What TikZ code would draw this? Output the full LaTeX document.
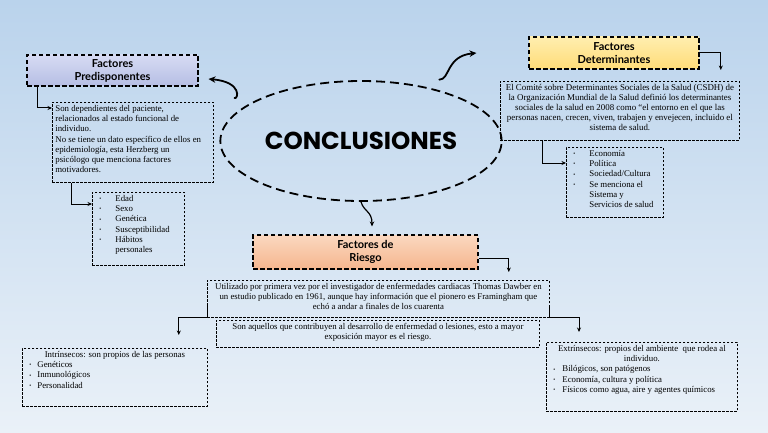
\documentclass[tikz,border=0pt]{standalone}
\usepackage{fontspec}
\setmainfont{Liberation Serif}
\newfontfamily\headfont{Lato}
\newfontfamily\bigfont{Poppins}
\usetikzlibrary{
    arrows.meta,
    shapes.geometric,
    positioning,
    calc
}
\definecolor{bgtop}{RGB}{186,211,236}
\definecolor{bgbot}{RGB}{234,241,248}
\definecolor{predtop}{RGB}{214,219,243}
\definecolor{predbot}{RGB}{182,190,228}
\definecolor{dettop}{RGB}{255,238,175}
\definecolor{detbot}{RGB}{255,220,120}
\definecolor{riestop}{RGB}{251,216,192}
\definecolor{riesbot}{RGB}{245,182,142}
\newcommand{\notefont}{\fontsize{8.8}{10.2}\selectfont}
\newcommand{\topbox}[3]{\parbox[t][#2][t]{#1}{#3}}
\newcommand{\bul}[1]{\hspace*{4pt}\makebox[#1][l]{\raisebox{0.8pt}{\fontsize{5.5}{5.5}\selectfont\textbullet}}}

\begin{document}
\begin{tikzpicture}[
        x=1pt, y=-1pt,
        title/.style={draw, dash pattern=on 4.5pt off 2.5pt, line width=1.1pt, align=center, inner sep=1pt, font=\headfont\bfseries\fontsize{11}{13}\selectfont},
        note/.style={draw, dash pattern=on 2.4pt off 1.6pt, line width=0.8pt, inner sep=3pt, anchor=north west, font=\notefont},
        link/.style={line width=1pt, -{Stealth[length=4.5pt, width=4pt]}},
        curvy/.style={line width=1.8pt, line cap=round, -{Stealth[length=7pt, width=6.5pt]}}
    ]
        % background
        \useasboundingbox (0,0) rectangle (768,433);
        \shade[top color=bgtop, bottom color=bgbot] (0,0) rectangle (768,433);

        % centre
        \node[ellipse, draw, line width=1.8pt, dash pattern=on 9pt off 5pt, minimum width=216pt, minimum height=120pt, font=\bigfont\bfseries\fontsize{24.5}{27}\selectfont] (concl) at (361,141) {CONCLUSIONES};

        % Predisponentes
        \node[title, top color=predtop, bottom color=predbot, minimum width=171pt, minimum height=31pt] (pred) at (112.5,70.5) {Factores\\ Predisponentes};
        \node[note] (predtxt) at (52,102) {\topbox{155pt}{74pt}{\raggedright Son dependientes del paciente,\\ relacionados al estado funcional de\\ individuo.\\ No se tiene un dato específico de ellos en\\ epidemiología, esta Herzberg un\\ psicólogo que menciona factores\\ motivadores.}};
        \node[note] (list1) at (92,192) {\topbox{86pt}{67pt}{\raggedright \bul{16pt}Edad\\ \bul{16pt}Sexo\\ \bul{16pt}Genética\\ \bul{16pt}Susceptibilidad\\ \bul{16pt}Hábitos\\ \hspace*{20pt}personales}};

        % Determinantes
        \node[title, top color=dettop, bottom color=detbot, minimum width=170pt, minimum height=32pt] (det) at (614,53) {Factores\\ Determinantes};
        \node[note, font=\fontsize{8.9}{10.1}\selectfont] (dettxt) at (500,81) {\topbox{233pt}{53pt}{\centering El Comité sobre Determinantes Sociales de la Salud (CSDH) de\\ la Organización Mundial de la Salud definió los determinantes\\ sociales de la salud en 2008 como “el entorno en el que las\\ personas nacen, crecen, viven, trabajen y envejecen, incluido el\\ sistema de salud.}};
        \node[note] (list2) at (566,147) {\topbox{91pt}{64pt}{\raggedright \bul{16pt}Economía\\ \bul{16pt}Política\\ \bul{16pt}Sociedad/Cultura\\ \bul{16pt}Se menciona el\\ \hspace*{20pt}Sistema y\\ \hspace*{20pt}Servicios de salud}};

        % Riesgo
        \node[title, top color=riestop, bottom color=riesbot, minimum width=225pt, minimum height=34pt] (ries) at (365.5,252) {Factores de\\ Riesgo};
        \node[note] (util) at (207,280) {\topbox{336pt}{31pt}{\centering Utilizado por primera vez por el investigador de enfermedades cardiacas Thomas Dawber en\\ un estudio publicado en 1961, aunque hay información que el pionero es Framingham que\\ echó a andar a finales de los cuarenta}};
        \node[note] (aquel) at (216,320) {\topbox{317pt}{21pt}{\centering Son aquellos que contribuyen al desarrollo de enfermedad o lesiones, esto a mayor\\ exposición mayor es el riesgo.}};
        \node[note] (intr) at (22,348) {\topbox{179pt}{52pt}{{\centering Intrínsecos: son propios de las personas\par}\raggedright \bul{8pt}Genéticos\\ \bul{8pt}Inmunológicos\\ \bul{8pt}Personalidad}};
        \node[note] (extr) at (546,342) {\topbox{185pt}{63pt}{{\centering Extrínsecos: propios del ambiente\ \ que rodea al\\ individuo.\par}\raggedright \bul{9pt}Bilógicos, son patógenos\\ \bul{9pt}Economía, cultura y política\\ \bul{9pt}Físicos como agua, aire y agentes químicos}};

        % curvy arrows out of the centre
        \draw[curvy] ([xshift=-16pt, yshift=5pt]concl.161) .. controls (238,100) and (243,82) .. ([xshift=10pt, yshift=-8.5pt]pred.east);
        \draw[curvy] ([xshift=10pt, yshift=8pt]concl.38) .. controls (450,80) and (446,56) .. ([xshift=-52pt]det.west);
        \draw[curvy, line width=1.2pt, -{Stealth[length=5pt, width=4.5pt]}] (concl.south) .. controls (364,212) and (372,211) .. ([xshift=6.5pt, yshift=8pt]ries.north);

        % elbow links
        \draw[link] ([xshift=11pt]pred.south west) |- ([yshift=-6pt]predtxt.north west);
        \draw[link] ([xshift=19pt]predtxt.south west) |- ([yshift=-12pt]list1.north west);
        \draw[link] (det.east) -| ([xshift=-19pt, yshift=11pt]dettxt.north east);
        \draw[link] ([xshift=42pt]dettxt.south west) |- ([yshift=-16pt]list2.north west);
        \draw[link] ([yshift=-6pt]ries.east) -| ([xshift=-41pt, yshift=8pt]util.north east);
        \draw[link] ([yshift=12pt]util.south west) -- (util.south west) -| ([xshift=-29pt, yshift=13pt]intr.north east);
        \draw[link] ([yshift=12pt]util.south east) -- (util.south east) -| ([xshift=33pt, yshift=10pt]extr.north west);
    \end{tikzpicture}
\end{document}
